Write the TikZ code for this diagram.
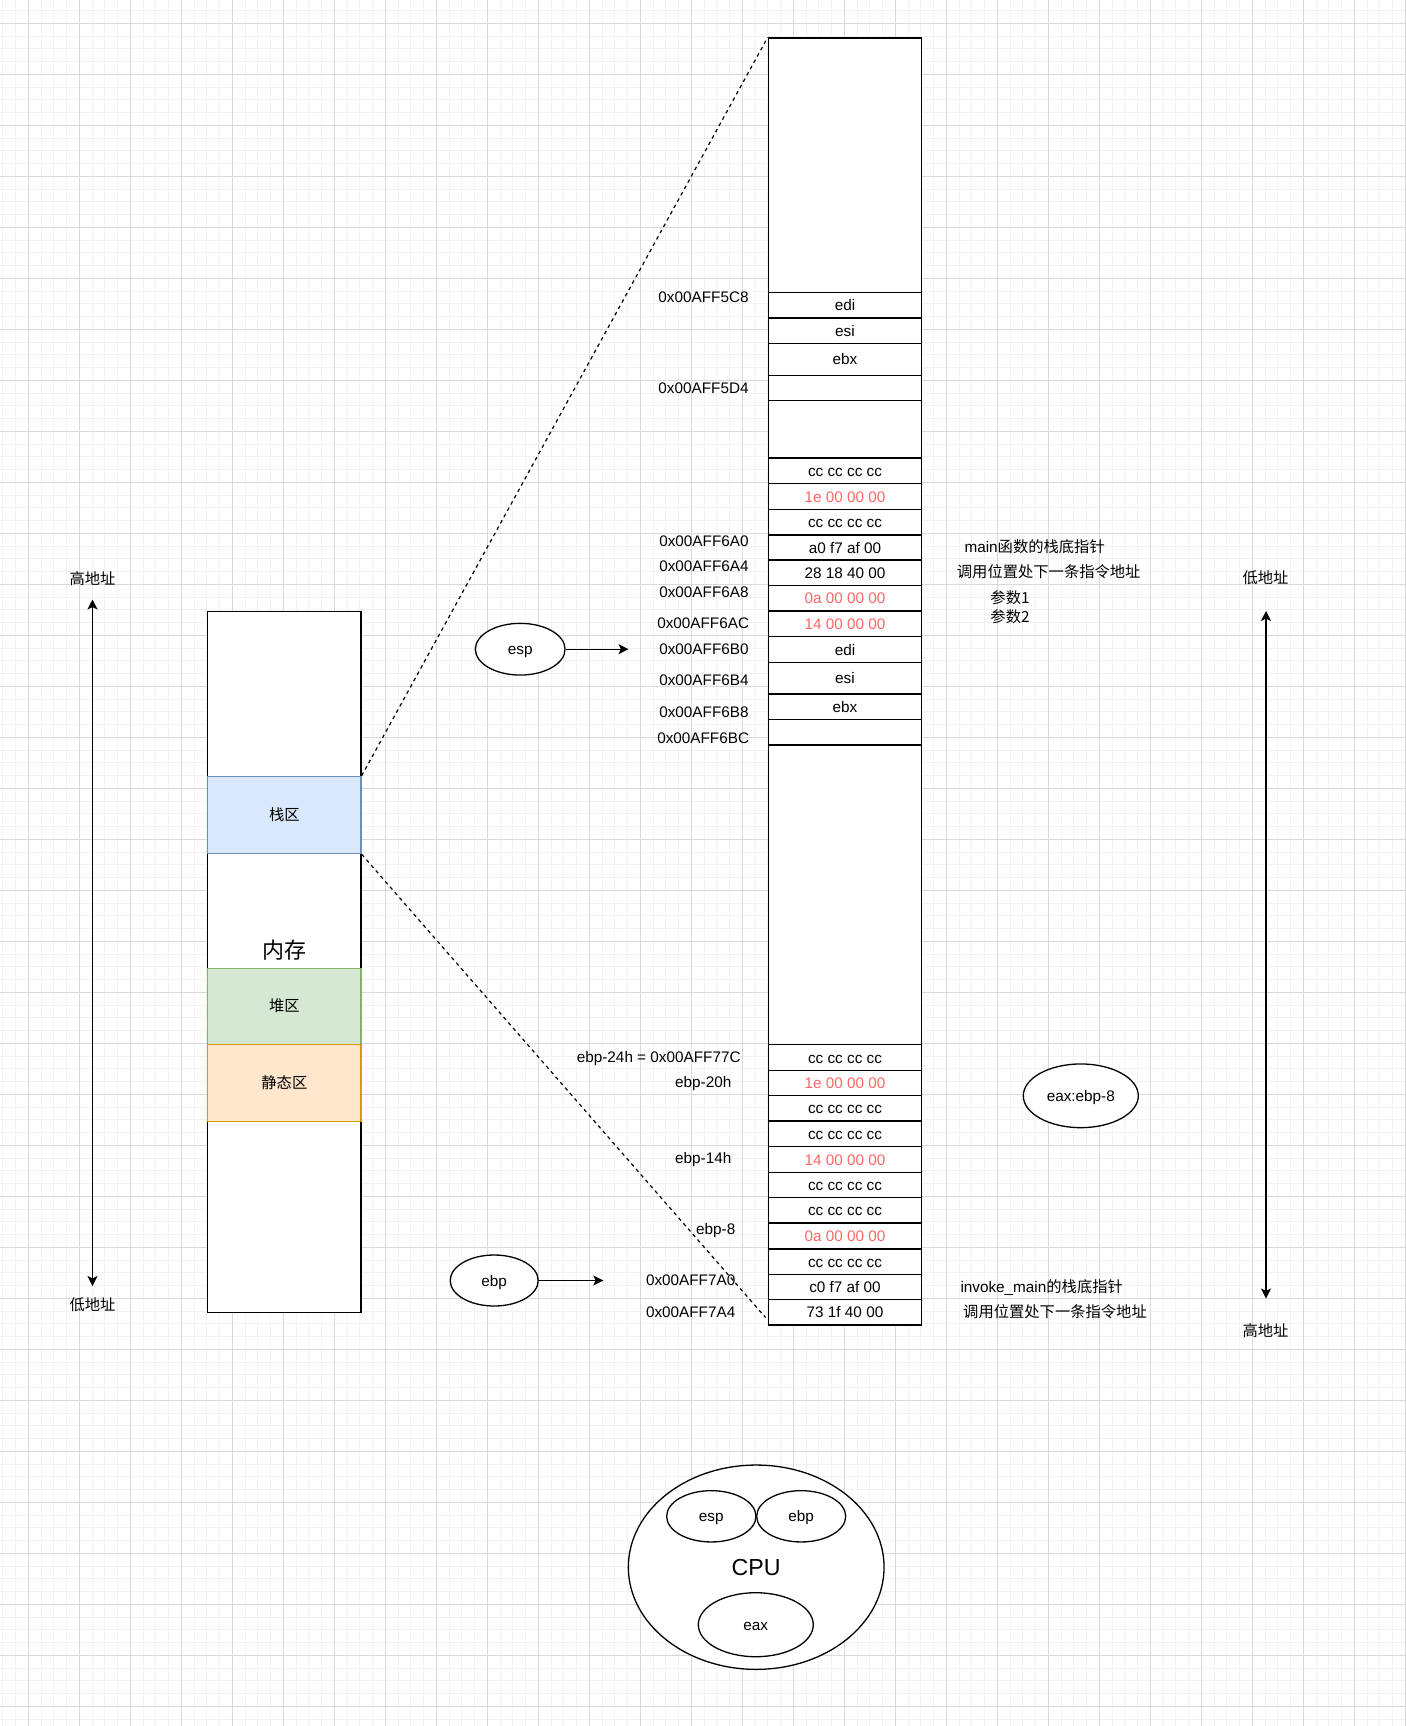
\documentclass[tikz,border=0pt]{standalone}
\usepackage{fontspec}
\setmainfont{Liberation Sans}
\newfontfamily\cjk{Noto Sans CJK SC}
\usetikzlibrary{shapes.geometric,arrows.meta}
\definecolor{gminor}{HTML}{F2F2F2}
\definecolor{gmajor}{HTML}{D9D9D9}
\definecolor{redtxt}{HTML}{FF6666}
\definecolor{stackfill}{HTML}{DAE8FC}
\definecolor{stackline}{HTML}{6C8EBF}
\definecolor{heapfill}{HTML}{D5E8D4}
\definecolor{heapline}{HTML}{82B366}
\definecolor{statfill}{HTML}{FFE6CC}
\definecolor{statline}{HTML}{D79B00}
\newcommand\mcell[5]{%
  \pgfmathsetmacro\mcellh{(#3-#2)*0.5}%
  \node[cellbox, minimum height=\mcellh pt, text=#5] (#1) at (845,{(#2+#3)/2}) {#4};%
}
\begin{document}
\begin{tikzpicture}[x=0.5pt,y=-0.5pt,
  every node/.style={font=\fontsize{7.65}{9.2}\selectfont, inner sep=0pt, text height=5.5pt, text depth=0pt},
  cellbox/.style={draw, line width=0.65pt, fill=white, minimum width=76.6pt},
  addr/.style={anchor=east},
  note/.style={anchor=center},
  oval/.style={draw, ellipse, line width=0.65pt, fill=white},
  conn/.style={line width=0.65pt, -{Stealth[length=5pt,width=5pt,inset=1.2pt]}},
  dconn/.style={line width=0.65pt, {Stealth[length=5pt,width=5pt,inset=1.2pt]}-{Stealth[length=5pt,width=5pt,inset=1.2pt]}},
  zoomline/.style={line width=0.6pt, dash pattern=on 1.8pt off 1.8pt}]
\useasboundingbox (0,0) rectangle (1406,1726);
\begin{scope}
\clip (0,0) rectangle (1406,1726);
\fill[white] (0,0) rectangle (1406,1726);
\foreach \i in {-3,...,110} \draw[gminor, line width=0.5pt] ({28.3+12.75*\i},0) -- ({28.3+12.75*\i},1726);
\foreach \i in {-2,...,135} \draw[gminor, line width=0.5pt] (0,{23.3+12.75*\i}) -- (1406,{23.3+12.75*\i});
\foreach \i in {0,...,27} \draw[gmajor, line width=0.55pt] ({28.3+51*\i},0) -- ({28.3+51*\i},1726);
\foreach \i in {0,...,33} \draw[gmajor, line width=0.55pt] (0,{23.3+51*\i}) -- (1406,{23.3+51*\i});
\end{scope}

% left memory box
\node[draw, line width=0.65pt, fill=white, minimum width=76.65pt, minimum height=350.45pt] (mem) at (284.35,961.85) {};
\node[draw=stackline, fill=stackfill, line width=0.65pt, minimum width=76.65pt, minimum height=38.6pt] (stack) at (284.35,815) {\cjk 栈区};
\node[draw=heapline, fill=heapfill, line width=0.65pt, minimum width=76.65pt, minimum height=38.05pt] (heap) at (284.35,1006.25) {\cjk 堆区};
\node[draw=statline, fill=statfill, line width=0.65pt, minimum width=76.65pt, minimum height=38.55pt] (static) at (284.35,1082.85) {\cjk 静态区};
\node[font=\fontsize{11}{13}\selectfont\cjk, text height=8.4pt] (memlabel) at (284,949.6) {内存};

% right column
\node[draw, line width=0.65pt, fill=white, minimum width=76.6pt, minimum height=643.85pt, anchor=north] (col) at (845,37.3) {};
\mcell{a1}{292.7}{318}{edi}{black}
\mcell{a2}{318}{343.3}{esi}{black}
\mcell{a3}{343.3}{375.3}{ebx}{black}
\mcell{a4}{375.3}{400.7}{}{black}
\mcell{b1}{458}{483.7}{cc cc cc cc}{black}
\mcell{b2}{483.7}{509.3}{1e 00 00 00}{redtxt}
\mcell{b3}{509.3}{535}{cc cc cc cc}{black}
\mcell{b4}{535}{560}{a0 f7 af 00}{black}
\mcell{b5}{560}{585.7}{28 18 40 00}{black}
\mcell{b6}{585.7}{611}{0a 00 00 00}{redtxt}
\mcell{b7}{611}{636.7}{14 00 00 00}{redtxt}
\mcell{b8}{636.7}{662.3}{edi}{black}
\mcell{b9}{662.3}{694}{esi}{black}
\mcell{b10}{694}{719.3}{ebx}{black}
\mcell{b11}{719.3}{745}{}{black}
\mcell{c1}{1044.7}{1070.3}{cc cc cc cc}{black}
\mcell{c2}{1070.3}{1095.7}{1e 00 00 00}{redtxt}
\mcell{c3}{1095.7}{1121}{cc cc cc cc}{black}
\mcell{c4}{1121}{1146.7}{cc cc cc cc}{black}
\mcell{c5}{1146.7}{1172.3}{14 00 00 00}{redtxt}
\mcell{c6}{1172.3}{1197.7}{cc cc cc cc}{black}
\mcell{c7}{1197.7}{1223}{cc cc cc cc}{black}
\mcell{c8}{1223}{1249}{0a 00 00 00}{redtxt}
\mcell{c9}{1249}{1274.3}{cc cc cc cc}{black}
\mcell{c10}{1274.3}{1299.7}{c0 f7 af 00}{black}
\mcell{c11}{1299.7}{1325}{73 1f 40 00}{black}

% zoom lines
\coordinate (zend) at (765.5,1317.5);
\draw[zoomline] (stack.north east) -- (col.north west);
\draw[zoomline] (stack.south east) -- (zend);

% address labels
\node[addr] (l1) at (749,297.3) {0x00AFF5C8};
\node[addr] (l2) at (749,388) {0x00AFF5D4};
\node[addr] (l3) at (749,540.7) {0x00AFF6A0};
\node[addr] (l4) at (749,566) {0x00AFF6A4};
\node[addr] (l5) at (749,591.7) {0x00AFF6A8};
\node[addr] (l6) at (749.5,622.7) {0x00AFF6AC};
\node[addr] (l7) at (749,649.3) {0x00AFF6B0};
\node[addr] (l8) at (749,680) {0x00AFF6B4};
\node[addr] (l9) at (749,711.7) {0x00AFF6B8};
\node[addr] (l10) at (749.5,737.7) {0x00AFF6BC};
\node[addr] (m1) at (741,1056.7) {ebp-24h = 0x00AFF77C};
\node[addr] (m2) at (731.7,1081.7) {ebp-20h};
\node[addr] (m3) at (731.7,1158.3) {ebp-14h};
\node[addr] (m4) at (735.7,1229.3) {ebp-8};
\node[addr] (m5) at (735.7,1280) {0x00AFF7A0};
\node[addr] (m6) at (735.7,1311.7) {0x00AFF7A4};

% notes
\node[note] (n1) at (1034.7,546.7) {main{\cjk 函数的栈底指针}};
\node[note] (n2) at (1048.7,571.7) {\cjk 调用位置处下一条指令地址};
\node[note] (n3) at (1010,598.3) {\cjk 参数1};
\node[note] (n4) at (1010,616.7) {\cjk 参数2};
\node[note] (n5) at (1041.7,1286.7) {invoke\_main{\cjk 的栈底指针}};
\node[note] (n6) at (1055,1312.3) {\cjk 调用位置处下一条指令地址};

% address direction arrows
\node (hiL) at (92.5,579) {\cjk 高地址};
\node (loL) at (92.5,1305) {\cjk 低地址};
\node (loR) at (1265.5,578) {\cjk 低地址};
\node (hiR) at (1265.5,1331) {\cjk 高地址};
\coordinate (laTop) at (92.5,599.5);
\coordinate (laBot) at (92.5,1286);
\coordinate (raTop) at (1266,611);
\coordinate (raBot) at (1266,1298.5);
\draw[dconn] (laTop) -- (laBot);
\draw[dconn] (raTop) -- (raBot);

% pointer ellipses
\node[oval, minimum width=44.85pt, minimum height=25.85pt] (esp) at (520.2,649.2) {esp};
\coordinate (espTip) at (628.5,649.2);
\draw[conn] (esp) -- (espTip);
\node[oval, minimum width=44pt, minimum height=25.5pt] (ebp) at (494.2,1280.5) {ebp};
\coordinate (ebpTip) at (603.3,1280.5);
\draw[conn] (ebp) -- (ebpTip);
\node[oval, minimum width=57.5pt, minimum height=31.85pt] (eaxnote) at (1080.8,1095.8) {eax:ebp-8};

% CPU
\node[oval, minimum width=127.85pt, minimum height=102.15pt, font=\fontsize{11.6}{14}\selectfont, text height=8.3pt] (cpu) at (756.2,1567.2) {CPU};
\node[oval, minimum width=44.65pt, minimum height=25.65pt] (cesp) at (711.3,1516.3) {esp};
\node[oval, minimum width=44.5pt, minimum height=25.65pt] (cebp) at (801.2,1516.3) {ebp};
\node[oval, minimum width=57.5pt, minimum height=32pt] (ceax) at (755.8,1624.7) {eax};
\end{tikzpicture}
\end{document}
